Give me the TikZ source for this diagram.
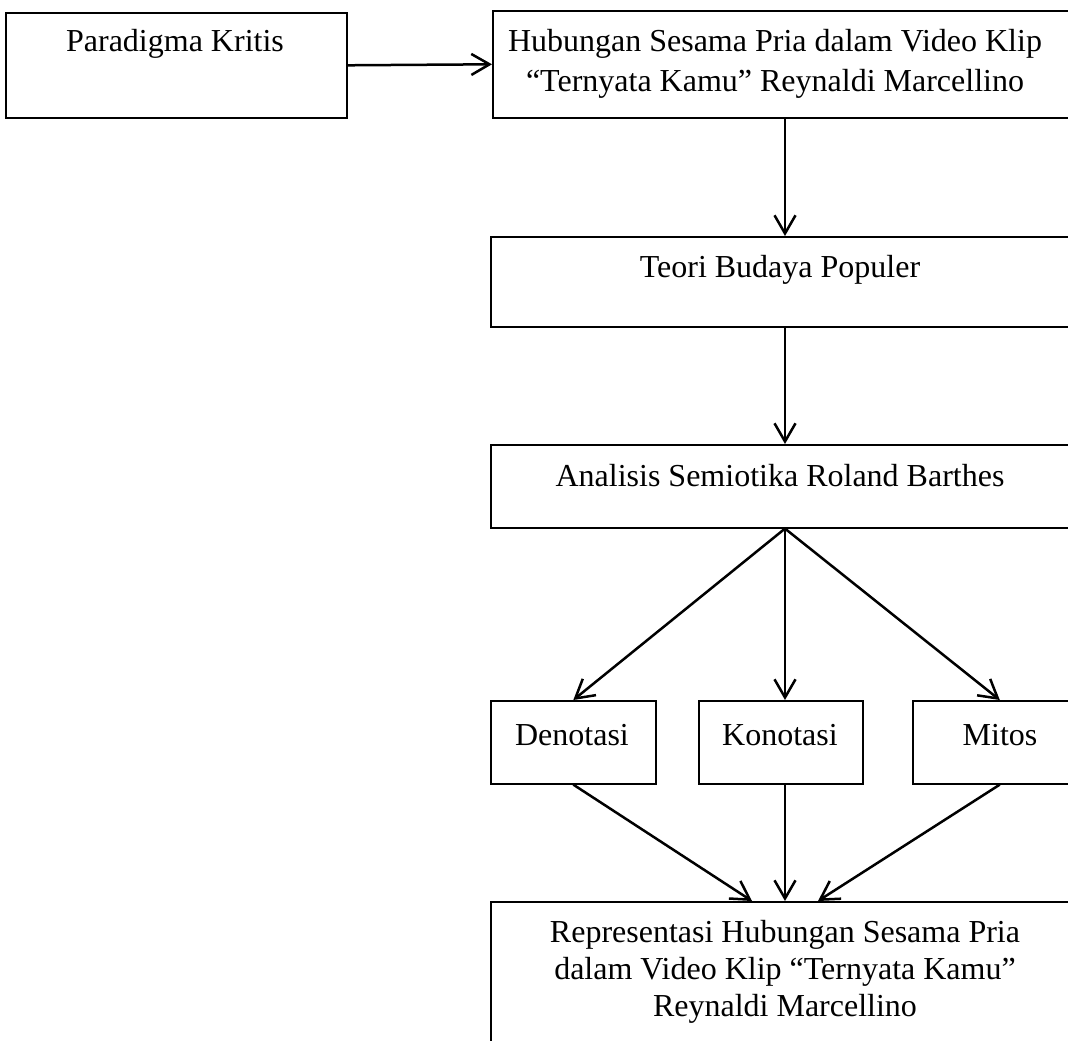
\documentclass[tikz,border=0pt]{standalone}
\usepackage{fontspec}
\setmainfont{Liberation Serif}
\usetikzlibrary{arrows.meta,calc}
\tikzset{
  box/.style={draw=black, line width=1.6pt, rectangle, inner sep=0pt, anchor=north west},
  lbl/.style={inner sep=0pt, align=center, font=\fontsize{32}{38}\selectfont},
  conn/.style={line width=2.5pt, -{Straight Barb[angle=60:21pt, line width=2.5pt]}}
}
\begin{document}
\begin{tikzpicture}[x=1pt, y=-1pt]
\useasboundingbox (0,0) rectangle (1068,1041);
% boxes
\node[box, minimum width=341pt, minimum height=105pt] (par) at (5,12) {};
\node[box, minimum width=588pt, minimum height=107pt] (hub) at (492,10) {};
\node[box, minimum width=590pt, minimum height=90pt] (teo) at (490,236) {};
\node[box, minimum width=590pt, minimum height=83pt] (ana) at (490,444) {};
\node[box, minimum width=165pt, minimum height=83pt] (den) at (490,700) {};
\node[box, minimum width=164pt, minimum height=83pt] (kon) at (698,700) {};
\node[box, minimum width=174pt, minimum height=83pt] (mit) at (912,700) {};
\node[box, minimum width=590pt, minimum height=160pt] (rep) at (490,901) {};
% labels
\node[lbl] (tpar) at (175,44) {Paradigma Kritis};
\node[lbl, font=\fontsize{32}{40}\selectfont] (thub) at (775,64) {Hubungan Sesama Pria dalam Video Klip\\“Ternyata Kamu” Reynaldi Marcellino};
\node[lbl] (tteo) at (780,270) {Teori Budaya Populer};
\node[lbl] (tana) at (780,476) {Analisis Semiotika Roland Barthes};
\node[lbl] (tden) at (572,735) {Denotasi};
\node[lbl] (tkon) at (780,735) {Konotasi};
\node[lbl] (tmit) at (1000,735) {Mitos};
\node[lbl, font=\fontsize{32}{37}\selectfont] (trep) at (785,972) {Representasi Hubungan Sesama Pria\\dalam Video Klip “Ternyata Kamu”\\Reynaldi Marcellino};
% connector points on the axis x = 785
\coordinate (ax) at (785,0);
\coordinate (hubb) at (hub.south -| ax);
\coordinate (teot) at (teo.north -| ax);
\coordinate (teob) at (teo.south -| ax);
\coordinate (anat) at (ana.north -| ax);
\coordinate (anab) at (ana.south -| ax);
\coordinate (kont) at (kon.north -| ax);
\coordinate (konb) at (kon.south -| ax);
\coordinate (rept) at (rep.north -| ax);
\coordinate (repL) at ($(rept)+(-33,0)$);
\coordinate (repR) at ($(rept)+(33,0)$);
% connectors
\draw[conn] (par.east) -- (hub.west);
\draw[conn] (hubb) -- (teot);
\draw[conn] (teob) -- (anat);
\draw[conn] (anab) -- (den.north);
\draw[conn] (anab) -- (kont);
\draw[conn] (anab) -- (mit.north);
\draw[conn] (den.south) -- (repL);
\draw[conn] (konb) -- (rept);
\draw[conn] (mit.south) -- (repR);
\end{tikzpicture}
\end{document}
